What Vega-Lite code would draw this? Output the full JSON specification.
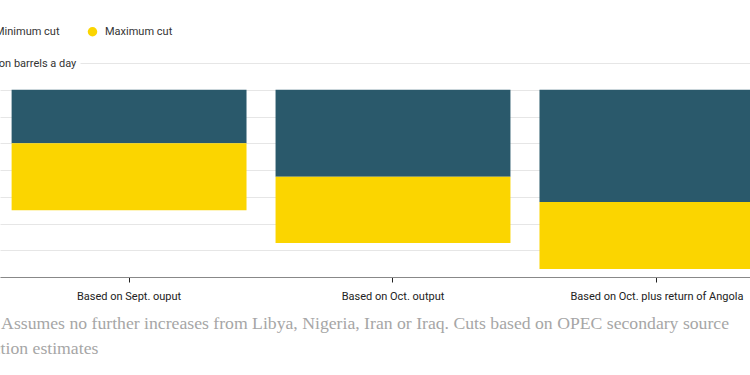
{
  "$schema": "https://vega.github.io/schema/vega-lite/v6.json",
  "autosize": {"type": "none"},
  "width": 786,
  "height": 214,
  "padding": {"left": 0, "top": 63, "right": -36, "bottom": 98},
  "background": "white",
  "data": {
    "values": [
      {"scenario": "Based on Sept. ouput", "cut": "Minimum cut", "from": 0, "to": -0.4},
      {"scenario": "Based on Sept. ouput", "cut": "Maximum cut", "from": -0.4, "to": -0.9},
      {"scenario": "Based on Oct. output", "cut": "Minimum cut", "from": 0, "to": -0.65},
      {"scenario": "Based on Oct. output", "cut": "Maximum cut", "from": -0.65, "to": -1.145},
      {"scenario": "Based on Oct. plus return of Angola", "cut": "Minimum cut", "from": 0, "to": -0.84},
      {"scenario": "Based on Oct. plus return of Angola", "cut": "Maximum cut", "from": -0.84, "to": -1.34}
    ]
  },
  "config": {
    "view": {"stroke": null},
    "font": "Roboto"
  },
  "mark": {"type": "bar"},
  "encoding": {
    "x": {
      "field": "scenario",
      "type": "nominal",
      "sort": null,
      "scale": {"paddingInner": 0.11, "paddingOuter": 0.044},
      "axis": {
        "labelAngle": 0,
        "labelFont": "Roboto",
        "labelFontSize": 11,
        "labelColor": "#222",
        "labelPadding": 8,
        "tickColor": "#222",
        "tickSize": 5,
        "domainColor": "#888",
        "domainWidth": 1,
        "grid": false,
        "title": ["Notes: Assumes no further increases from Libya, Nigeria, Iran or Iraq. Cuts based on OPEC secondary source", "production estimates"],
        "titleFont": "Liberation Serif",
        "titleFontSize": 17.7,
        "titleFontWeight": "normal",
        "titleColor": "#a6a6a6",
        "titleAnchor": "start",
        "titleAlign": "left",
        "titleBaseline": "alphabetic",
        "titleLineHeight": 25,
        "titleX": -49,
        "titleY": 51
      }
    },
    "y": {
      "field": "from",
      "type": "quantitative",
      "scale": {"domain": [-1.4, 0.2], "nice": false, "zero": false},
      "axis": {
        "values": [0.2, 0, -0.2, -0.4, -0.6, -0.8, -1, -1.2, -1.4],
        "title": null,
        "domain": false,
        "ticks": false,
        "tickSize": 0,
        "gridColor": "#e6e6e6",
        "gridWidth": 1,
        "gridDash": {"condition": {"test": "datum.value === 0.2", "value": [0, 80, 1000]}, "value": []},
        "labelExpr": "datum.value === 0.2 ? 'Million barrels a day' : format(datum.value, '.1f')",
        "labelAlign": {"condition": {"test": "datum.value === 0.2", "value": "left"}, "value": "right"},
        "labelPadding": {"condition": {"test": "datum.value === 0.2", "value": 22}, "value": 8},
        "labelFont": "Roboto",
        "labelFontSize": 11,
        "labelColor": "#333",
        "labelBaseline": "middle"
      }
    },
    "y2": {"field": "to"},
    "color": {
      "field": "cut",
      "type": "nominal",
      "scale": {"domain": ["Minimum cut", "Maximum cut"], "range": ["#2a596b", "#fbd500"]},
      "legend": {
        "orient": "none",
        "legendX": -23,
        "legendY": -37,
        "direction": "horizontal",
        "title": null,
        "symbolType": "circle",
        "symbolSize": 90,
        "symbolStrokeWidth": 0,
        "labelFont": "Roboto",
        "labelFontSize": 11,
        "labelColor": "#333",
        "labelOffset": 7,
        "columnPadding": 27
      }
    }
  }
}
